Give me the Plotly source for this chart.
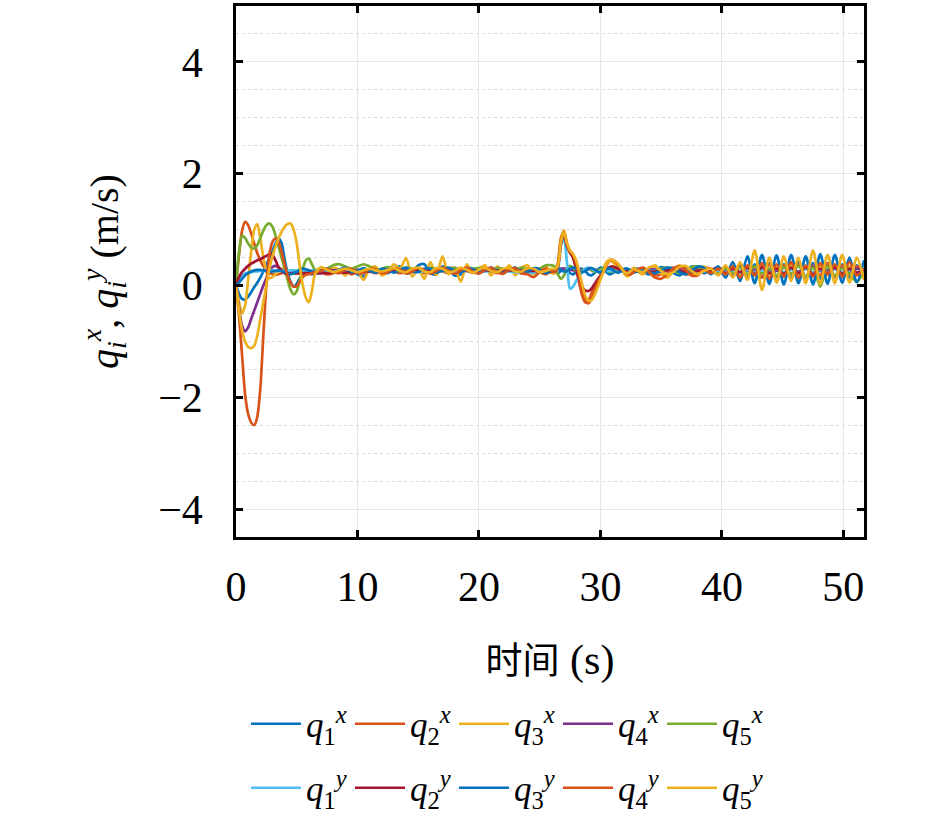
import numpy as np
import plotly.graph_objects as go

# time samples (s): fine steps on the transients, coarser on the flat parts
t = np.concatenate([
    np.arange(0, 6.51, 0.25),
    np.arange(7, 26.01, 0.5),
    np.arange(26.25, 33.01, 0.25),
    np.arange(33.5, 38.51, 0.5),
    np.arange(39.1, 51.71, 0.6),
])

# velocities (m/s), one list per series
q1x = [0, -0.15, -0.24, -0.25, -0.2, -0.12, -0.03, 0.05, 0.14, 0.25, 0.37, 0.49, 0.62, 0.75, 0.84, 0.76, 0.47, 0.22, 0.06, -0.02, 0.03, 0.13, 0.19, 0.23, 0.22, 0.2, 0.22,
       0.22, 0.28, 0.3, 0.26, 0.24, 0.28, 0.2, 0.16, 0.27, 0.3, 0.25, 0.22, 0.3, 0.34, 0.22, 0.24, 0.36, 0.38, 0.22, 0.2, 0.34, 0.3, 0.18, 0.2, 0.32, 0.3, 0.24, 0.26, 0.3, 0.26, 0.22, 0.28, 0.32, 0.24, 0.22, 0.3, 0.3, 0.22, 0.24,
       0.24, 0.22, 0.26, 0.3, 0.28, 0.22, 0.2, 0.24, 0.29, 0.3, 0.26, 0.2, 0.18, 0.22, 0.28, 0.32, 0.3, 0.24, 0.2, 0.22, 0.28, 0.32, 0.3, 0.24, 0.2, 0.22, 0.28, 0.3,
       0.24, 0.2, 0.26, 0.33, 0.3, 0.22, 0.18, 0.25, 0.34, 0.32, 0.22,
       0.26, 0.2, 0.32, 0.18, 0.36, 0.16, 0.38, 0.14, 0.4, 0.15, 0.38, 0.12, 0.42, 0.14, 0.4, 0.12, 0.4, 0.15, 0.38, 0.14, 0.36, 0.2]
q2x = [0, 0.55, 0.98, 1.14, 1.08, 0.93, 0.75, 0.58, 0.45, 0.35, 0.28, 0.23, 0.2, 0.19, 0.2, 0.22, 0.24, 0.25, 0.24, 0.22, 0.21, 0.22, 0.25, 0.27, 0.26, 0.24, 0.23,
       0.24, 0.2, 0.22, 0.28, 0.26, 0.2, 0.24, 0.28, 0.25, 0.22, 0.26, 0.3, 0.26, 0.22, 0.25, 0.3, 0.26, 0.22, 0.27, 0.3, 0.25, 0.22, 0.27, 0.3, 0.26, 0.23, 0.27, 0.3, 0.25, 0.22, 0.27, 0.3, 0.26, 0.22, 0.26, 0.3, 0.24, 0.2, 0.26,
       0.27, 0.4, 0.85, 0.95, 0.7, 0.58, 0.5, 0.3, 0.05, -0.18, -0.3, -0.28, -0.15, 0.0, 0.1, 0.18, 0.3, 0.4, 0.45, 0.44, 0.4, 0.35, 0.28, 0.22, 0.18, 0.2, 0.25, 0.28,
       0.3, 0.24, 0.18, 0.2, 0.28, 0.32, 0.26, 0.2, 0.22, 0.3, 0.32,
       0.3, 0.22, 0.34, 0.16, 0.36, 0.18, 0.34, 0.14, 0.38, 0.16, 0.36, 0.2, 0.38, 0.15, 0.35, 0.18, 0.4, 0.16, 0.36, 0.2, 0.34, 0.22]
q3x = [0, -0.3, -0.5, -0.35, 0.1, 0.6, 1.0, 1.1, 0.85, 0.5, 0.25, 0.13, 0.15, 0.2, 0.26, 0.3, 0.28, 0.24, 0.21, 0.22, 0.26, 0.3, 0.29, 0.26, 0.23, 0.24, 0.27,
       0.3, 0.22, 0.32, 0.28, 0.18, 0.3, 0.26, 0.1, 0.3, 0.34, 0.18, 0.24, 0.38, 0.3, 0.49, 0.16, 0.3, 0.12, 0.42, 0.18, 0.52, 0.2, 0.3, 0.07, 0.38, 0.22, 0.3, 0.36, 0.18, 0.34, 0.24, 0.36, 0.18, 0.32, 0.36, 0.2, 0.3, 0.34, 0.22,
       0.22, 0.38, 0.82, 0.98, 0.72, 0.6, 0.52, 0.38, 0.15, -0.08, -0.22, -0.28, -0.25, -0.12, 0.02, 0.13, 0.28, 0.42, 0.46, 0.42, 0.36, 0.34, 0.3, 0.2, 0.16, 0.24, 0.32, 0.26,
       0.2, 0.3, 0.36, 0.22, 0.14, 0.26, 0.36, 0.3, 0.18, 0.22, 0.34,
       0.25, 0.32, 0.2, 0.35, 0.18, 0.3, 0.22, 0.36, 0.2, 0.32, 0.2, 0.38, 0.16, 0.34, 0.22, 0.36, 0.18, 0.35, 0.2, 0.34, 0.24, 0.3]
q4x = [0, -0.4, -0.72, -0.82, -0.75, -0.6, -0.45, -0.3, -0.15, 0.0, 0.13, 0.25, 0.33, 0.35, 0.32, 0.28, 0.26, 0.25, 0.25, 0.26, 0.27, 0.27, 0.26, 0.25, 0.25, 0.26, 0.26,
       0.27, 0.28, 0.27, 0.26, 0.27, 0.28, 0.28, 0.27, 0.26, 0.27, 0.28, 0.28, 0.27, 0.27, 0.28, 0.29, 0.28, 0.27, 0.27, 0.28, 0.29, 0.28, 0.27, 0.27, 0.28, 0.28, 0.28, 0.27, 0.28, 0.29, 0.29, 0.28, 0.27, 0.28, 0.29, 0.29, 0.28, 0.27, 0.27,
       0.28, 0.29, 0.3, 0.3, 0.29, 0.28, 0.27, 0.27, 0.27, 0.28, 0.28, 0.29, 0.29, 0.28, 0.27, 0.27, 0.27, 0.28, 0.28, 0.29, 0.28, 0.28, 0.27, 0.27, 0.28, 0.28, 0.29, 0.28,
       0.28, 0.29, 0.29, 0.28, 0.27, 0.28, 0.3, 0.31, 0.3, 0.28, 0.27,
       0.28, 0.32, 0.25, 0.3, 0.34, 0.26, 0.28, 0.33, 0.27, 0.26, 0.32, 0.3, 0.25, 0.3, 0.33, 0.26, 0.27, 0.32, 0.3, 0.26, 0.3, 0.28]
q5x = [0, 0.6, 0.89, 0.85, 0.75, 0.68, 0.66, 0.72, 0.85, 0.98, 1.08, 1.11, 1.05, 0.9, 0.7, 0.5, 0.3, 0.1, -0.08, -0.16, -0.1, 0.1, 0.3, 0.45, 0.48, 0.38, 0.28,
       0.26, 0.3, 0.36, 0.38, 0.34, 0.3, 0.34, 0.38, 0.34, 0.28, 0.3, 0.33, 0.28, 0.27, 0.32, 0.3, 0.26, 0.29, 0.32, 0.28, 0.26, 0.3, 0.32, 0.27, 0.26, 0.3, 0.31, 0.27, 0.27, 0.31, 0.3, 0.26, 0.28, 0.32, 0.3, 0.26, 0.3, 0.36, 0.36,
       0.34, 0.2, 0.12, 0.18, 0.3, 0.35, 0.32, 0.26, 0.24, 0.27, 0.3, 0.3, 0.27, 0.25, 0.26, 0.29, 0.3, 0.28, 0.25, 0.25, 0.28, 0.3, 0.29, 0.26, 0.25, 0.27, 0.3, 0.29,
       0.28, 0.24, 0.25, 0.3, 0.32, 0.27, 0.22, 0.26, 0.33, 0.34, 0.26,
       0.28, 0.22, 0.3, 0.24, 0.32, 0.2, 0.34, 0.22, 0.3, 0.18, 0.33, 0.2, 0.35, 0.16, 0.32, -0.02, 0.34, 0.18, 0.3, 0.22, 0.06, 0.28]
q1y = [0, 0.1, 0.17, 0.21, 0.23, 0.24, 0.25, 0.25, 0.26, 0.26, 0.27, 0.27, 0.27, 0.26, 0.26, 0.26, 0.26, 0.26, 0.27, 0.27, 0.27, 0.27, 0.26, 0.26, 0.26, 0.26, 0.26,
       0.26, 0.26, 0.25, 0.25, 0.26, 0.26, 0.25, 0.25, 0.26, 0.26, 0.26, 0.25, 0.25, 0.26, 0.26, 0.26, 0.25, 0.25, 0.26, 0.26, 0.26, 0.25, 0.25, 0.26, 0.26, 0.26, 0.25, 0.25, 0.26, 0.26, 0.26, 0.25, 0.24, 0.22, 0.21, 0.23, 0.25, 0.26, 0.26,
       0.25, 0.3, 0.7, 0.85, 0.4, -0.06, -0.02, 0.08, 0.16, 0.24, 0.3, 0.32, 0.3, 0.27, 0.25, 0.25, 0.25, 0.26, 0.26, 0.26, 0.25, 0.25, 0.25, 0.26, 0.26, 0.26, 0.25, 0.25,
       0.25, 0.26, 0.26, 0.25, 0.25, 0.26, 0.26, 0.25, 0.25, 0.26, 0.26,
       0.25, 0.27, 0.24, 0.28, 0.23, 0.28, 0.24, 0.28, 0.23, 0.29, 0.24, 0.28, 0.23, 0.29, 0.23, 0.28, 0.24, 0.29, 0.23, 0.28, 0.24, 0.26]
q2y = [0, 0.15, 0.24, 0.3, 0.35, 0.39, 0.42, 0.45, 0.47, 0.5, 0.53, 0.56, 0.55, 0.45, 0.33, 0.26, 0.22, 0.21, 0.21, 0.22, 0.22, 0.22, 0.22, 0.22, 0.22, 0.22, 0.22,
       0.22, 0.22, 0.23, 0.23, 0.23, 0.24, 0.24, 0.24, 0.25, 0.25, 0.25, 0.25, 0.26, 0.26, 0.26, 0.26, 0.26, 0.27, 0.27, 0.27, 0.27, 0.27, 0.27, 0.27, 0.27, 0.27, 0.27, 0.27, 0.27, 0.27, 0.27, 0.27, 0.27, 0.26, 0.26, 0.26, 0.25, 0.25, 0.25,
       0.26, 0.34, 0.75, 0.92, 0.7, 0.6, 0.5, 0.3, 0.1, -0.03, -0.09, -0.1, -0.06, 0.02, 0.1, 0.17, 0.24, 0.3, 0.33, 0.34, 0.32, 0.29, 0.27, 0.26, 0.25, 0.25, 0.26, 0.26,
       0.26, 0.25, 0.25, 0.26, 0.27, 0.27, 0.26, 0.24, 0.24, 0.26, 0.28,
       0.26, 0.3, 0.22, 0.3, 0.24, 0.32, 0.2, 0.33, 0.22, 0.3, 0.21, 0.32, 0.22, 0.33, 0.2, 0.3, 0.22, 0.32, 0.21, 0.3, 0.23, 0.28]
q3y = [0, 0.05, 0.12, 0.18, 0.22, 0.25, 0.27, 0.28, 0.28, 0.27, 0.26, 0.25, 0.25, 0.26, 0.27, 0.26, 0.24, 0.21, 0.2, 0.22, 0.24, 0.28, 0.3, 0.29, 0.27, 0.25, 0.25,
       0.26, 0.3, 0.24, 0.28, 0.32, 0.24, 0.26, 0.31, 0.26, 0.23, 0.3, 0.28, 0.23, 0.28, 0.32, 0.25, 0.24, 0.3, 0.3, 0.23, 0.27, 0.32, 0.26, 0.23, 0.3, 0.29, 0.23, 0.27, 0.32, 0.26, 0.22, 0.29, 0.31, 0.24, 0.25, 0.31, 0.28, 0.22, 0.27,
       0.27, 0.3, 0.28, 0.25, 0.26, 0.3, 0.32, 0.3, 0.26, 0.24, 0.26, 0.3, 0.31, 0.29, 0.25, 0.23, 0.25, 0.29, 0.31, 0.28, 0.24, 0.23, 0.26, 0.3, 0.3, 0.26, 0.23, 0.25,
       0.28, 0.24, 0.22, 0.27, 0.32, 0.3, 0.24, 0.2, 0.26, 0.34, 0.32,
       0.2, 0.34, 0.14, 0.42, 0.08, 0.52, 0.04, 0.55, 0.03, 0.54, 0.02, 0.55, 0.04, 0.52, 0.02, 0.56, 0.03, 0.55, 0.05, 0.5, 0.06, 0.45]
q4y = [0, -0.55, -1.25, -1.95, -2.3, -2.45, -2.5, -2.35, -1.85, -0.9, 0.0, 0.55, 0.78, 0.84, 0.78, 0.6, 0.38, 0.18, 0.04, -0.02, -0.01, 0.07, 0.15, 0.19, 0.2, 0.22, 0.24,
       0.26, 0.3, 0.24, 0.22, 0.29, 0.3, 0.23, 0.22, 0.3, 0.29, 0.22, 0.24, 0.31, 0.28, 0.21, 0.25, 0.32, 0.27, 0.21, 0.26, 0.32, 0.26, 0.21, 0.27, 0.32, 0.25, 0.21, 0.28, 0.32, 0.24, 0.21, 0.29, 0.31, 0.22, 0.2, 0.15, 0.24, 0.3, 0.26,
       0.24, 0.35, 0.8, 0.97, 0.75, 0.62, 0.55, 0.4, 0.15, -0.1, -0.28, -0.32, -0.25, -0.1, 0.05, 0.15, 0.25, 0.36, 0.44, 0.46, 0.42, 0.36, 0.3, 0.24, 0.2, 0.2, 0.24, 0.28,
       0.32, 0.24, 0.14, 0.12, 0.2, 0.3, 0.34, 0.28, 0.18, 0.18, 0.28,
       0.22, 0.3, 0.2, 0.34, 0.14, 0.36, 0.18, 0.4, 0.12, 0.38, 0.16, 0.42, 0.14, 0.36, 0.16, 0.4, 0.2, 0.38, 0.16, 0.42, 0.18, 0.3]
q5y = [0, -0.45, -0.8, -1.0, -1.1, -1.12, -1.08, -0.9, -0.6, -0.3, 0.0, 0.3, 0.52, 0.7, 0.84, 0.96, 1.05, 1.1, 1.11, 1.0, 0.75, 0.35, 0.0, -0.22, -0.3, -0.1, 0.2,
       0.33, 0.28, 0.24, 0.27, 0.3, 0.27, 0.24, 0.27, 0.3, 0.27, 0.25, 0.28, 0.31, 0.26, 0.24, 0.3, 0.32, 0.25, 0.24, 0.31, 0.3, 0.24, 0.26, 0.32, 0.28, 0.23, 0.28, 0.32, 0.26, 0.24, 0.3, 0.31, 0.25, 0.25, 0.31, 0.3, 0.24, 0.26, 0.3,
       0.3, 0.36, 0.78, 0.96, 0.75, 0.62, 0.56, 0.45, 0.25, 0.02, -0.18, -0.27, -0.27, -0.18, -0.05, 0.1, 0.24, 0.38, 0.45, 0.46, 0.43, 0.38, 0.3, 0.24, 0.22, 0.26, 0.3, 0.27,
       0.24, 0.32, 0.34, 0.26, 0.2, 0.24, 0.33, 0.35, 0.26, 0.2, 0.26,
       0.3, 0.18, 0.36, 0.14, 0.42, 0.1, 0.63, -0.08, 0.5, 0.05, 0.52, 0.08, 0.5, 0.04, 0.63, 0.02, 0.55, 0.04, 0.55, 0.05, 0.5, 0.1]

names = ["q1x", "q2x", "q3x", "q4x", "q5x", "q1y", "q2y", "q3y", "q4y", "q5y"]
series = [q1x, q2x, q3x, q4x, q5x, q1y, q2y, q3y, q4y, q5y]
colors = ["#0072BD", "#D95319", "#EDB120", "#7E2F8E", "#77AC30",
          "#4DBEEE", "#A2142F", "#0072BD", "#D95319", "#EDB120"]

FONT = "'Liberation Serif', 'Noto Sans CJK SC', serif"

fig = go.Figure()
for name, vals, col in zip(names, series, colors):
    assert len(vals) == len(t), name
    idx, comp = name[1], name[2]
    label = "<i>q</i><sub>%s</sub><sup><i>%s</i></sup>" % (idx, comp)
    fig.add_trace(go.Scatter(
        x=t, y=vals, mode="lines", name=label,
        line=dict(color=col, width=2.7, shape="spline", smoothing=0.8),
        legend="legend" if comp == "x" else "legend2",
    ))

# one legend row for the x components, one for the y components
legend_style = dict(
    orientation="h", xref="container", yref="container",
    xanchor="left", x=246 / 945, yanchor="middle",
    entrywidth=39, itemwidth=50, font=dict(family=FONT, size=35),
    bgcolor="rgba(0,0,0,0)",
)

fig.update_layout(
    width=945, height=822,
    margin=dict(l=236, r=81, t=3, b=285),
    paper_bgcolor="white", plot_bgcolor="white",
    font=dict(family=FONT, size=34, color="black"),
    legend=dict(legend_style, y=1 - 724 / 822),
    legend2=dict(legend_style, y=1 - 788 / 822),
)

fig.update_xaxes(
    range=[0, 51.7], tickvals=[0, 10, 20, 30, 40, 50],
    ticks="inside", ticklen=7, tickwidth=2.5, tickcolor="black",
    showline=True, linecolor="black", linewidth=2.5, mirror="ticks",
    showgrid=True, gridcolor="#e6e6e6", gridwidth=1, zeroline=False,
    tickfont=dict(size=42), ticklabelstandoff=11,
    title=dict(text="<span style='font-family:Noto Sans CJK SC;font-size:37px'>时间</span> (s)",
               font=dict(family="Liberation Serif", size=42), standoff=36),
)
fig.update_yaxes(
    range=[-4.5, 5], tick0=0, dtick=2,
    ticks="inside", ticklen=7, tickwidth=2.5, tickcolor="black",
    showline=True, linecolor="black", linewidth=2.5, mirror="ticks",
    showgrid=True, gridcolor="#e6e6e6", gridwidth=1, zeroline=False,
    minor=dict(dtick=0.5, showgrid=True, gridcolor="#d9d9d9", griddash="dot", gridwidth=1),
    tickfont=dict(size=42), ticklabelstandoff=22,
    title=dict(text="<i>q</i><sub><i>i</i></sub><sup><i>x</i></sup>, <i>q</i><sub><i>i</i></sub><sup><i>y</i></sup> (m/s)",
               font=dict(size=40), standoff=28),
)

fig.write_html("out.html", config={"displayModeBar": False},
               post_script="document.body.style.margin='0';")
